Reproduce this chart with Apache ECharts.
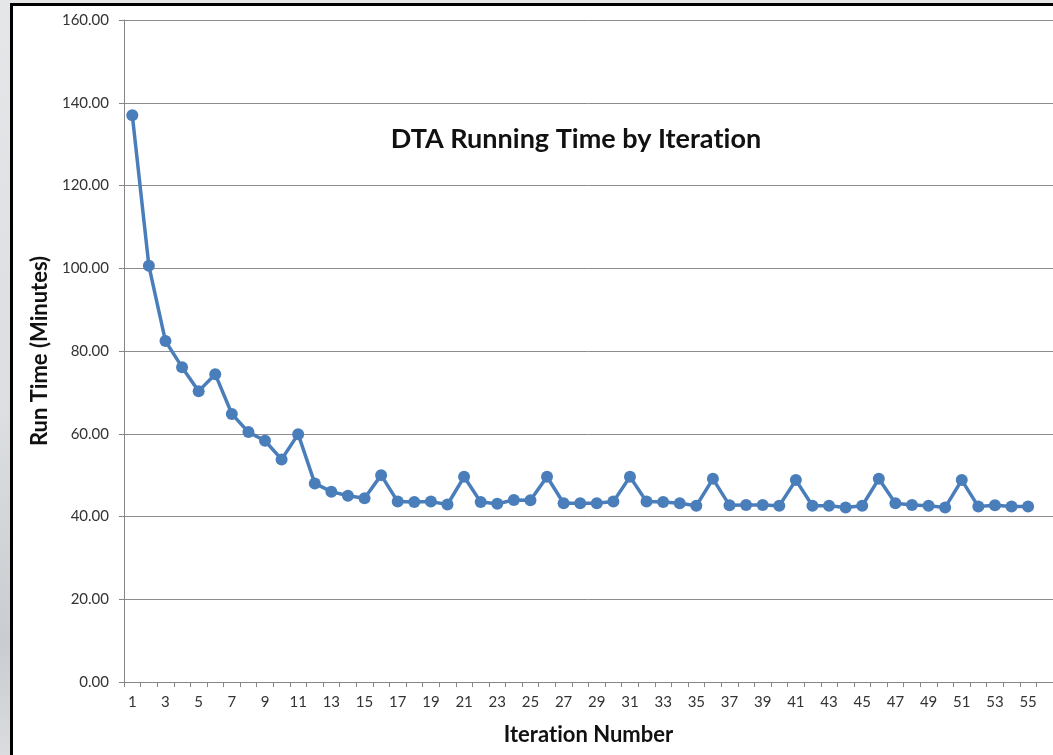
<!DOCTYPE html>
<html>
<head>
<meta charset="utf-8">
<title>DTA Running Time by Iteration</title>
<script src="https://cdn.jsdelivr.net/npm/echarts@6/dist/echarts.min.js"></script>
<style>
  html, body { margin: 0; padding: 0; background: #dfe1e3; overflow: hidden; }
  #chart { width: 1053px; height: 755px; }
</style>
</head>
<body>
<div id="chart"></div>
<script>
// Iteration numbers (one spare slot at the end of the axis, as in the worksheet plot)
const iterations = Array.from({ length: 56 }, (_, i) => String(i + 1));

// Run time per iteration, minutes
const runTimes = [
  137.0, 100.6, 82.4, 76.1, 70.3, 74.4, 64.8, 60.4, 58.3, 53.8,
  59.9, 48.0, 46.0, 45.0, 44.4, 50.0, 43.6, 43.5, 43.6, 42.9,
  49.6, 43.5, 43.1, 44.0, 43.9, 49.6, 43.2, 43.2, 43.2, 43.6,
  49.6, 43.6, 43.5, 43.2, 42.6, 49.1, 42.7, 42.8, 42.8, 42.6,
  48.8, 42.6, 42.6, 42.2, 42.6, 49.1, 43.2, 42.8, 42.6, 42.2,
  48.8, 42.4, 42.7, 42.4, 42.4
];

const chartTitle = 'DTA Running Time by Iteration';
const xTitle = 'Iteration Number';
const yTitle = 'Run Time (Minutes)';

// Split text into rich-text runs at "ti" so the font's ti-ligature is not applied
function noTiLigature(text) {
  return text.split('ti').map(s => '{n|' + s + '}').join('{n|t}{n|i}');
}

const FONT = 'Lato, "Open Sans", sans-serif';
const chart = echarts.init(document.getElementById('chart'), null, { renderer: 'canvas' });

chart.setOption({
  backgroundColor: {
    type: 'linear', x: 0, y: 0, x2: 0, y2: 1,
    colorStops: [
      { offset: 0, color: '#e4e6e8' },
      { offset: 0.55, color: '#dcdee1' },
      { offset: 0.85, color: '#c9ccd0' },
      { offset: 1, color: '#dadcdf' }
    ]
  },
  animation: false,
  graphic: [
    {
      type: 'rect', z: -10, silent: true,
      shape: { x: 11.5, y: 4.5, width: 1100, height: 800 },
      style: { fill: '#ffffff', stroke: '#000000', lineWidth: 3 }
    },
    {
      type: 'text', silent: true,
      x: 576, y: 139,
      style: {
        text: noTiLigature(chartTitle),
        rich: { n: { fill: '#111111', fontFamily: FONT, fontWeight: 'bold', fontSize: 27 } },
        align: 'center', verticalAlign: 'middle'
      }
    }
  ],
  grid: { left: 124, top: 20, width: 933, height: 662, containLabel: false },
  xAxis: {
    type: 'category',
    data: iterations,
    boundaryGap: true,
    name: noTiLigature(xTitle),
    nameLocation: 'middle',
    nameGap: 42,
    nameTextStyle: {
      rich: { n: { color: '#111111', fontFamily: FONT, fontWeight: 'bold', fontSize: 22 } }
    },
    axisLine: { lineStyle: { color: '#868686', width: 1 } },
    axisTick: { show: true, interval: 0, length: 5, lineStyle: { color: '#868686' } },
    axisLabel: { interval: 1, color: '#333333', fontFamily: FONT, fontSize: 15, margin: 13 },
    splitLine: { show: false }
  },
  yAxis: {
    type: 'value',
    min: 0, max: 160, interval: 20,
    name: yTitle,
    nameLocation: 'middle',
    nameGap: 67,
    nameTextStyle: { color: '#111111', fontFamily: FONT, fontWeight: 'bold', fontSize: 22 },
    axisLine: { show: true, lineStyle: { color: '#868686', width: 1 } },
    axisTick: { show: true, length: 5, lineStyle: { color: '#868686' } },
    axisLabel: {
      color: '#333333', fontFamily: FONT, fontSize: 15, margin: 15,
      formatter: v => v.toFixed(2)
    },
    splitLine: { show: true, lineStyle: { color: '#8c8c8c', width: 1 } }
  },
  series: [{
    type: 'line',
    data: runTimes,
    symbol: 'circle',
    symbolSize: 12,
    showAllSymbol: true,
    lineStyle: { color: '#4a7ebb', width: 3.5 },
    itemStyle: { color: '#4a7ebb' }
  }]
});
</script>
</body>
</html>
